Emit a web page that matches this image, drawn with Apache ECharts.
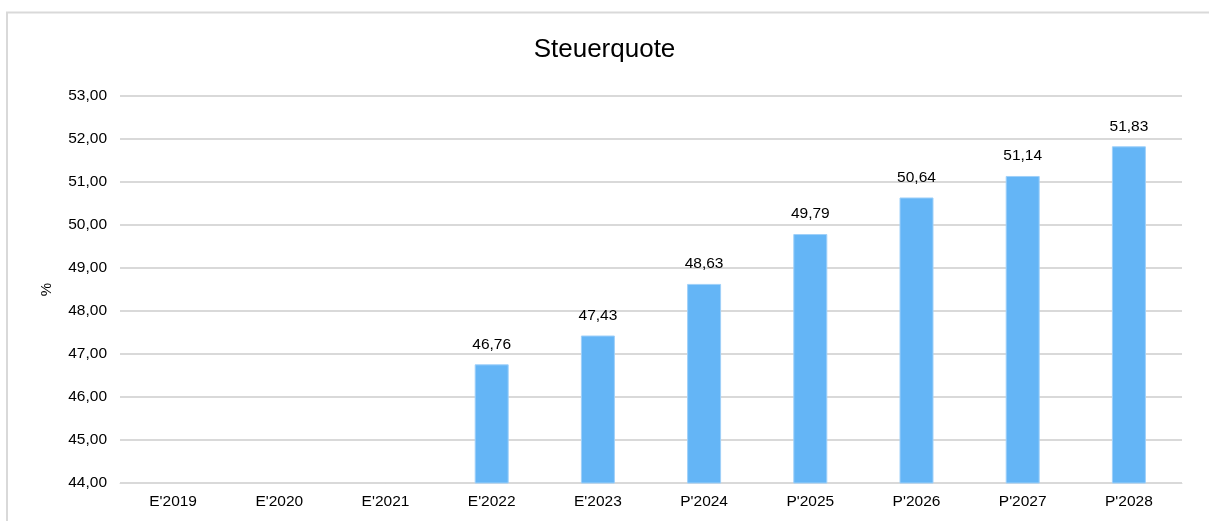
<!DOCTYPE html>
<html>
<head>
<meta charset="utf-8">
<script src="https://cdn.jsdelivr.net/npm/echarts@6/dist/echarts.min.js"></script>
<style>
  html, body { margin: 0; padding: 0; background: #fff; }
  #chart { width: 1209px; height: 521px; }
</style>
</head>
<body>
<div id="chart"></div>
<script>
// Steuerquote
var categories = ["E'2019", "E'2020", "E'2021", "E'2022", "E'2023", "P'2024", "P'2025", "P'2026", "P'2027", "P'2028"];
var quote = [null, null, null, 46.76, 47.43, 48.63, 49.79, 50.64, 51.14, 51.83];
var yMin = 44, yMax = 53, yStep = 1;

function fmt(v) {
	return v.toFixed(2).replace('.', ',');
}

var myChart = echarts.init(document.getElementById('chart'));
var option = {
	backgroundColor : '#fff',
	animation : false,
	textStyle : {
		fontFamily : 'Liberation Sans, Arial, sans-serif'
	},
	title : {
		text : 'Steuerquote',
		left : 'center',
		top : 32,
		textStyle : {
			fontSize : 26,
			fontWeight : 'normal',
			color : '#000'
		}
	},
	graphic : [{
		type : 'polyline',
		shape : { points : [[7, 530], [7, 12.5], [1215, 12.5]] },
		style : { stroke : '#d9d9d9', lineWidth : 2, fill : null },
		silent : true
	}],
	grid : {
		left : 120,
		right : 27,
		top : 96,
		bottom : 38
	},
	xAxis : [{
		type : 'category',
		data : categories,
		axisLine : { show : true, lineStyle : { color : '#d9d9d9', width : 1 } },
		axisTick : { show : false },
		axisLabel : {
			color : '#000',
			fontSize : 15.5,
			margin : 11,
			interval : 0
		}
	}],
	yAxis : [{
		type : 'value',
		min : yMin,
		max : yMax,
		interval : yStep,
		name : '%',
		nameLocation : 'middle',
		nameGap : 66,
		nameRotate : 90,
		nameTextStyle : { color : '#000', fontSize : 15 },
		axisLine : { show : false },
		axisTick : { show : false },
		axisLabel : {
			color : '#000',
			fontSize : 15.5,
			margin : 13,
			formatter : function(v) { return fmt(v); }
		},
		splitLine : { lineStyle : { color : '#d9d9d9', width : 2 } }
	}],
	series : [{
		type : 'bar',
		data : quote,
		barWidth : 34,
		itemStyle : {
			color : '#64b5f6',
			borderColor : '#9fd0f9',
			borderWidth : 1
		},
		label : {
			show : true,
			position : 'top',
			distance : 12,
			color : '#000',
			fontSize : 15.5,
			formatter : function(p) { return fmt(p.value); }
		}
	}]
};
myChart.setOption(option);
</script>
</body>
</html>
